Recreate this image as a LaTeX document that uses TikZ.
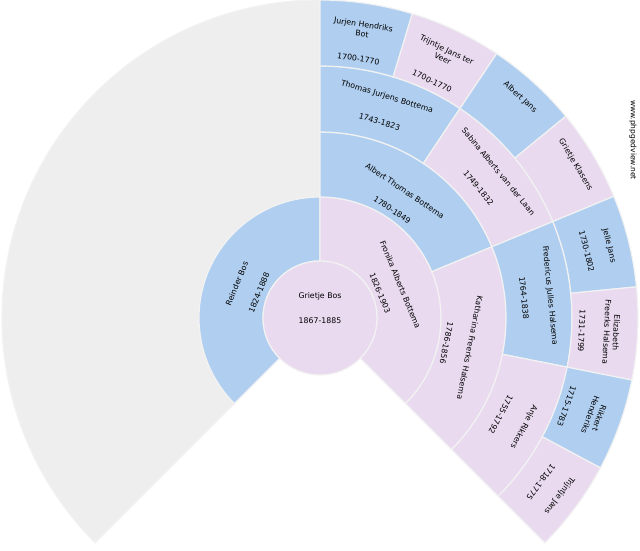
\documentclass[tikz,border=0pt]{standalone}
\usepackage{fontspec}
\setmainfont{DejaVu Sans}
\definecolor{male}{HTML}{B0CFF0}
\definecolor{female}{HTML}{E9DAF0}
\definecolor{empty}{HTML}{EEEEEE}
\definecolor{sep}{HTML}{F2F2F2}
\tikzset{
  seg/.style={fill=#1, draw=sep, line width=1.2pt},
  person/.style={font=\fontsize{7.8}{9.5}\selectfont, align=center, inner sep=0pt},
}
% wedge: start angle, end angle, inner radius, outer radius, colour
\newcommand{\fanseg}[5]{%
  \path[seg=#5] (#1:#3) arc[start angle=#1, end angle=#2, radius=#3]
    -- (#2:#4) arc[start angle=#2, end angle=#1, radius=#4] -- cycle;}
\begin{document}
\begin{tikzpicture}[x=1pt, y=1pt]
    \useasboundingbox (0,0) rectangle (640,550);
    \begin{scope}[shift={(320,232)}]
    % Empty part of the fan
    \fanseg{225}{90}{121}{318}{empty}

    % Ring 1 (parents)
    \fanseg{225}{90}{57}{121}{male}
    \fanseg{90}{-45}{57}{121}{female}

    % Ring 2 (grandparents)
    \fanseg{90}{22.5}{121}{186}{male}
    \fanseg{22.5}{-45}{121}{186}{female}

    % Ring 3
    \fanseg{90}{56.25}{186}{252}{male}
    \fanseg{56.25}{22.5}{186}{252}{female}
    \fanseg{22.5}{-11.25}{186}{252}{male}
    \fanseg{-11.25}{-45}{186}{252}{female}

    % Ring 4
    \foreach \i/\c in {0/male,1/female,2/male,3/female,4/male,5/female,6/male,7/female} {
      \pgfmathsetmacro{\s}{90-16.875*\i}
      \pgfmathsetmacro{\e}{90-16.875*(\i+1)}
      \fanseg{\s}{\e}{252}{318}{\c}
    }

    % Centre person
    \path[seg=female] (0,0) circle[radius=57];
    \node[person] (root) at (0,22) {Grietje Bos};
    \node[person] (rootd) at (0,-3) {1867-1885};

    % Parents
    \node[person, rotate=67.5] (fa) at (157.5:90) {Reinder Bos};
    \node[person, rotate=67.5] (fad) at (157.5:66) {1824-1888};
    \node[person, rotate=-67.5] (mo) at (22.5:87) {Fronika Alberts Bottema};
    \node[person, rotate=-67.5] (mod) at (22.5:65) {1826-1903};

    % Grandparents
    \node[person, rotate=-33.75] (mofa) at (56.25:153) {Albert Thomas Bottema};
    \node[person, rotate=-33.75] (mofad) at (56.25:130) {1780-1849};
    \node[person, rotate=-101.25] (momo) at (-11.25:153) {Katharina Freerks Halsema};
    \node[person, rotate=-101.25] (momod) at (-11.25:129) {1786-1856};

    % Great-grandparents
    \node[person, rotate=-16.875] (mofafa) at (73.125:231) {Thomas Jurjens Bottema};
    \node[person, rotate=-16.875] (mofafad) at (73.125:205) {1743-1823};
    \node[person, rotate=-50.625] (mofamo) at (39.375:231) {Sabina Alberts van der Laan};
    \node[person, rotate=-50.625] (mofamod) at (39.375:205) {1749-1832};
    \node[person, rotate=-84.375] (momofa) at (5.625:231) {Fredericus Julles Halsema};
    \node[person, rotate=-84.375] (momofad) at (5.625:205) {1764-1838};
    \node[person, rotate=-118.125] (momomo) at (-28.125:231) {Anje Rikkers};
    \node[person, rotate=-118.125] (momomod) at (-28.125:205) {1755-1792};

    % Great-great-grandparents
    \node[person, rotate=-8.4375] (g1) at (81.5625:292) {Jurjen Hendriks\\Bot};
    \node[person, rotate=-8.4375] (g1d) at (81.5625:262) {1700-1770};
    \node[person, rotate=-25.3125] (g2) at (64.6875:292) {Trijntje Jans ter\\Veer};
    \node[person, rotate=-25.3125] (g2d) at (64.6875:262) {1700-1770};
    \node[person, rotate=-42.1875] (g3) at (47.8125:298) {Albert Jans};
    \node[person, rotate=-59.0625] (g4) at (30.9375:298) {Grietje Klasens};
    \node[person, rotate=-75.9375] (g5) at (14.0625:298) {Jelle Jans};
    \node[person, rotate=-75.9375] (g5d) at (14.0625:275) {1730-1802};
    \node[person, rotate=-92.8125] (g6) at (-2.8125:292) {Elizabeth\\Freerks Halsema};
    \node[person, rotate=-92.8125] (g6d) at (-2.8125:262) {1731-1799};
    \node[person, rotate=-109.6875] (g7) at (-19.6875:292) {Rikkert\\Henderiks};
    \node[person, rotate=-109.6875] (g7d) at (-19.6875:262) {1715-1783};
    \node[person, rotate=-126.5625] (g8) at (-36.5625:298) {Trijntje Jans};
    \node[person, rotate=-126.5625] (g8d) at (-36.5625:275) {1718-1775};
    \end{scope}

    % Watermark
    \node[font=\fontsize{7.5}{9}\selectfont, rotate=-90, inner sep=0pt] (mark) at (633,410) {www.phpgedview.net};
\end{tikzpicture}
\end{document}
